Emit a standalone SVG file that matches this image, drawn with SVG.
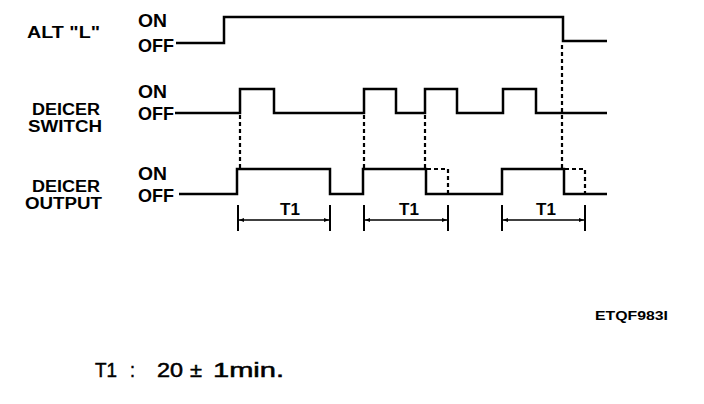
<svg xmlns="http://www.w3.org/2000/svg" width="704" height="404" viewBox="0 0 704 404">
<defs>
<marker id="ah" viewBox="0 0 10 10" refX="10" refY="5" markerWidth="7" markerHeight="5" orient="auto-start-reverse" markerUnits="userSpaceOnUse">
<path d="M0,1 L10,5 L0,9 z" fill="#000"/>
</marker>
<style>
.lbl{font-family:"Liberation Sans",Arial,sans-serif;font-weight:bold;font-size:16px;fill:#000}
.st{font-family:"Liberation Sans",Arial,sans-serif;font-weight:bold;font-size:18px;fill:#000}
.t1{font-family:"Liberation Sans",Arial,sans-serif;font-weight:bold;font-size:17px;fill:#000}
.wave{fill:none;stroke:#000;stroke-width:2.5;stroke-linejoin:miter}
.dash{fill:none;stroke:#000;stroke-width:2.2;stroke-dasharray:4,3}
.dim{fill:none;stroke:#000;stroke-width:1.6}
.tick{fill:none;stroke:#000;stroke-width:2}
</style>
</defs>
<rect width="704" height="404" fill="#fff"/>
<g id="alt">
<text class="lbl" x="27" y="38" textLength="73" lengthAdjust="spacingAndGlyphs">ALT "L"</text>
<text class="st" x="138" y="27" textLength="29" lengthAdjust="spacingAndGlyphs">ON</text>
<text class="st" x="138" y="52" textLength="36" lengthAdjust="spacingAndGlyphs">OFF</text>
<path class="wave" d="M176,43 H224 V17 H563 V41 H607"/>
</g>
<g id="switch">
<text class="lbl" x="32" y="115" textLength="68" lengthAdjust="spacingAndGlyphs">DEICER</text>
<text class="lbl" x="28" y="132" textLength="74" lengthAdjust="spacingAndGlyphs">SWITCH</text>
<text class="st" x="138" y="98" textLength="29" lengthAdjust="spacingAndGlyphs">ON</text>
<text class="st" x="138" y="120" textLength="36" lengthAdjust="spacingAndGlyphs">OFF</text>
<path class="wave" d="M175,113 H240 V89 H274 V113 H364 V89 H396 V113 H425 V89 H457 V113 H503 V89 H536 V113 H607"/>
</g>
<g id="output">
<text class="lbl" x="32" y="192" textLength="68" lengthAdjust="spacingAndGlyphs">DEICER</text>
<text class="lbl" x="25" y="209" textLength="77" lengthAdjust="spacingAndGlyphs">OUTPUT</text>
<text class="st" x="138" y="180" textLength="29" lengthAdjust="spacingAndGlyphs">ON</text>
<text class="st" x="138" y="202" textLength="36" lengthAdjust="spacingAndGlyphs">OFF</text>
<path class="wave" d="M179,194 H237 V169 H330 V194 H363 V169 H426 V194 H502 V169 H564 V194 H607"/>
</g>
<g id="connectors">
<path class="dash" d="M240,115 V168"/>
<path class="dash" d="M364,115 V168"/>
<path class="dash" d="M425,115 V168"/>
<path class="dash" d="M562,45 V168"/>
<path class="dash" d="M427,169 H448 V194"/>
<path class="dash" d="M565,169 H585 V194"/>
</g>
<g id="t1-dims">
<path class="tick" d="M238,205 V231 M330,205 V231 M364,205 V231 M448,205 V231 M502,205 V231 M585,205 V231"/>
<path class="dim" d="M239,220 H329" marker-start="url(#ah)" marker-end="url(#ah)"/>
<path class="dim" d="M365,220 H447" marker-start="url(#ah)" marker-end="url(#ah)"/>
<path class="dim" d="M503,220 H584" marker-start="url(#ah)" marker-end="url(#ah)"/>
<text class="t1" x="290" y="215" text-anchor="middle">T1</text>
<text class="t1" x="409" y="215" text-anchor="middle">T1</text>
<text class="t1" x="546" y="215" text-anchor="middle">T1</text>
</g>
<g id="notes">
<text x="595" y="320" font-family="Liberation Sans,Arial,sans-serif" font-weight="bold" font-size="12" textLength="73" lengthAdjust="spacingAndGlyphs">ETQF983I</text>
<text font-family="Liberation Sans,Arial,sans-serif" font-size="20" y="377" stroke="#000" stroke-width="0.5">
<tspan x="95" textLength="22" lengthAdjust="spacingAndGlyphs">T1</tspan><tspan x="130" textLength="5" lengthAdjust="spacingAndGlyphs">:</tspan><tspan x="157" textLength="26" lengthAdjust="spacingAndGlyphs">20</tspan><tspan x="190" textLength="12" lengthAdjust="spacingAndGlyphs">±</tspan><tspan x="213" textLength="71" lengthAdjust="spacingAndGlyphs">1min.</tspan>
</text>
</g>
</svg>
